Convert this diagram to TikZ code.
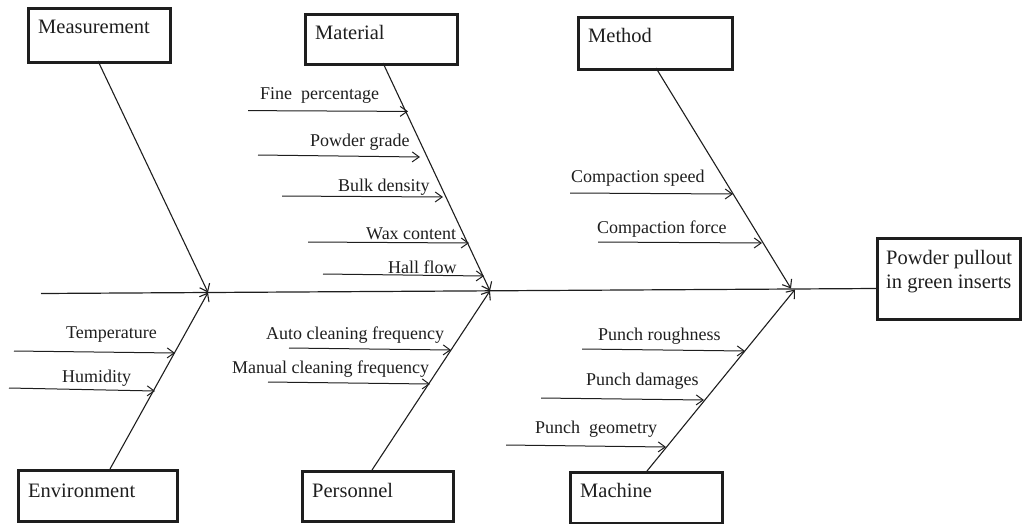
\documentclass[tikz,border=0pt]{standalone}
\usepackage{fontspec}
\setmainfont{Liberation Serif}
\usetikzlibrary{arrows.meta}
\definecolor{ink}{RGB}{30,30,30}
\tikzset{
  catbox/.style={draw=ink, line width=2.6pt, rectangle, anchor=north west, inner sep=0pt},
  boxtext/.style={anchor=base west, inner sep=0pt, font=\fontsize{20.5}{24}\selectfont, text=ink},
  subtext/.style={anchor=base west, inner sep=0pt, font=\fontsize{18}{21}\selectfont, text=ink},
  bone/.style={draw=ink, line width=1.1pt, -{Straight Barb[length=7pt,width=11pt,line width=1.1pt]}},
  twig/.style={draw=ink, line width=1pt, -{Straight Barb[length=7pt,width=10pt,line width=1pt]}},
  spine/.style={draw=ink, line width=1.2pt}
}
\begin{document}
\begin{tikzpicture}[x=1pt,y=-1pt]
\useasboundingbox (0,0) rectangle (1022,523);

% category boxes
\node[catbox, minimum width=142pt, minimum height=54pt] (meas) at (27,7) {};
\node[catbox, minimum width=152pt, minimum height=50pt] (mat) at (304,13) {};
\node[catbox, minimum width=154pt, minimum height=52pt] (meth) at (577,16) {};
\node[catbox, minimum width=159pt, minimum height=51pt] (env) at (17,469) {};
\node[catbox, minimum width=151pt, minimum height=50pt] (pers) at (301,470) {};
\node[catbox, minimum width=152pt, minimum height=51pt] (mach) at (569,471) {};
\node[catbox, minimum width=143pt, minimum height=81pt] (eff) at (876,237) {};

\node[boxtext] (tmeas) at (38,33) {Measurement};
\node[boxtext] (tmat) at (315,39) {Material};
\node[boxtext] (tmeth) at (588,42) {Method};
\node[boxtext] (tenv) at (28,497) {Environment};
\node[boxtext] (tpers) at (312,497) {Personnel};
\node[boxtext] (tmach) at (580,497) {Machine};
\node[boxtext] (teff1) at (886,264) {Powder pullout};
\node[boxtext] (teff2) at (886,288) {in green inserts};

% spine
\coordinate (tail) at (41,293.5);
\coordinate (s1) at (208,292.5);
\coordinate (s2) at (490,290.8);
\coordinate (s3) at (791,288.5);
\coordinate (s4) at (795,289.5);
\draw[spine] (tail) -- (eff.west |- 0,288.5);

% bone start points
\coordinate (bmeas) at (98,61);
\coordinate (benv) at (110,469);
\coordinate (bmat) at (383,63);
\coordinate (bpers) at (372,470);
\coordinate (bmeth) at (656,68);
\coordinate (bmach) at (647,471);

\draw[bone] (bmeas) -- (s1);
\draw[bone] (benv) -- (s1);
\draw[bone] (bmat) -- (s2);
\draw[bone] (bpers) -- (s2);
\draw[bone] (bmeth) -- (s3);
\draw[bone] (bmach) -- (s4);

% Material twigs
\coordinate (a1) at (248,110.6); \coordinate (h1) at (408,111.4);
\coordinate (a2) at (258,155); \coordinate (h2) at (420,157);
\coordinate (a3) at (282,196); \coordinate (h3) at (443,197);
\coordinate (a4) at (308,242); \coordinate (h4) at (469,243);
\coordinate (a5) at (323,274); \coordinate (h5) at (484,276);
\draw[twig] (a1) -- (h1);
\draw[twig] (a2) -- (h2);
\draw[twig] (a3) -- (h3);
\draw[twig] (a4) -- (h4);
\draw[twig] (a5) -- (h5);
\node[subtext] (l1) at (260,99) {Fine\ \ percentage};
\node[subtext] (l2) at (310,146) {Powder grade};
\node[subtext] (l3) at (338,191) {Bulk density};
\node[subtext] (l4) at (366,239) {Wax content};
\node[subtext] (l5) at (388,273) {Hall flow};

% Method twigs
\coordinate (a6) at (570,193); \coordinate (h6) at (733,194);
\coordinate (a7) at (598,242); \coordinate (h7) at (762,243);
\draw[twig] (a6) -- (h6);
\draw[twig] (a7) -- (h7);
\node[subtext] (l6) at (571,182) {Compaction speed};
\node[subtext] (l7) at (597,233) {Compaction force};

% Environment twigs
\coordinate (a8) at (14,351); \coordinate (h8) at (175,353);
\coordinate (a9) at (9,388); \coordinate (h9) at (155,391);
\draw[twig] (a8) -- (h8);
\draw[twig] (a9) -- (h9);
\node[subtext] (l8) at (66,338) {Temperature};
\node[subtext] (l9) at (62,382) {Humidity};

% Personnel twigs
\coordinate (a10) at (289,348); \coordinate (h10) at (451,350);
\coordinate (a11) at (268,382); \coordinate (h11) at (430,384);
\draw[twig] (a10) -- (h10);
\draw[twig] (a11) -- (h11);
\node[subtext] (l10) at (266,339) {Auto cleaning frequency};
\node[subtext] (l11) at (232,373) {Manual cleaning frequency};

% Machine twigs
\coordinate (a12) at (582,349); \coordinate (h12) at (745,351);
\coordinate (a13) at (541,398); \coordinate (h13) at (704,400);
\coordinate (a14) at (506,445); \coordinate (h14) at (666,447);
\draw[twig] (a12) -- (h12);
\draw[twig] (a13) -- (h13);
\draw[twig] (a14) -- (h14);
\node[subtext] (l12) at (598,340) {Punch roughness};
\node[subtext] (l13) at (586,385) {Punch damages};
\node[subtext] (l14) at (535,433) {Punch\ \ geometry};
\end{tikzpicture}
\end{document}
